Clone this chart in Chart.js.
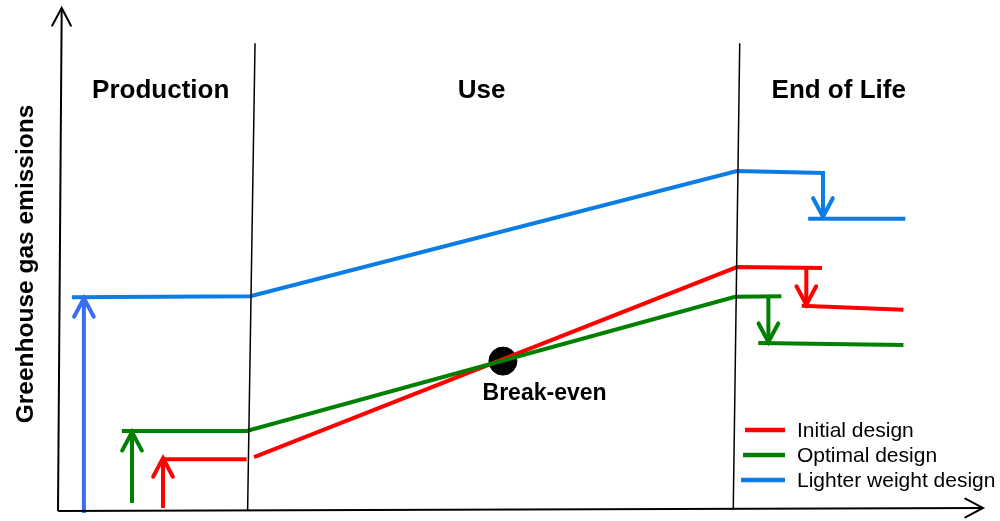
<!DOCTYPE html>
<html><head><meta charset="utf-8">
<script src="https://cdn.jsdelivr.net/npm/chart.js@4/dist/chart.umd.min.js"></script>
<style>html,body{margin:0;padding:0;background:#fff;}#wrap{width:1000px;height:521px;position:relative;}</style>
</head><body><div id="wrap"><canvas id="c"></canvas></div>
<script>
// ---- text ----
const stageLabels = ['Production', 'Use', 'End of Life'];
const stageLabelX = [11.1, 45.8, 84.4];
const stageLabelY = 82.1;
const yTitle = 'Greenhouse gas emissions';
const breakEvenLabel = 'Break-even';
const seriesNames = ['Initial design', 'Optimal design', 'Lighter weight design'];

// ---- axes and stage separators (schematic units 0..100) ----
const yAxisLine = [[0, 0], [0.4, 100]];
const xAxisLine = [[0, 0], [100, 0.6]];
const separator1 = [[20.5, 0.2], [21.3, 93]];
const separator2 = [[73.0, 0.2], [73.7, 93]];

// ---- Initial design (red) ----
const initialRise = [[11.35, 0.6], [11.35, 10.5]];
const initialProduction = [[11.35, 10.3], [20.4, 10.3]];
const initialUse = [[21.2, 10.7], [73.4, 48.5], [82.6, 48.3]];
const initialDrop = [[80.9, 48.3], [80.9, 41.0]];
const initialEnd = [[80.4, 40.8], [91.4, 40.0]];

// ---- Optimal design (green) ----
const optimalRise = [[8.0, 1.6], [8.0, 15.7]];
const optimalUse = [[6.9, 15.9], [20.4, 15.9], [73.2, 42.6], [78.2, 42.7]];
const optimalDrop = [[76.8, 42.7], [76.8, 33.6]];
const optimalEnd = [[75.7, 33.4], [91.4, 33.0]];

// ---- Lighter weight design (blue) ----
const lighterRise = [[2.8, -0.4], [2.8, 42.3]];
const lighterUse = [[1.5, 42.5], [20.8, 42.7], [73.4, 67.6], [82.7, 67.2], [82.7, 58.5]];
const lighterEnd = [[81.1, 58.1], [91.6, 58.1]];

// ---- break-even point ----
const breakEven = [[48.1, 29.8]];
const breakEvenLabelPos = [52.6, 22.1];

const RED = '#ff0000', GREEN = '#008000', BLUE = '#0b7de3', BLUE2 = '#3a6df5', BLACK = '#000000';
const pts = a => a.map(([x, y]) => ({ x, y }));
function seg(data, color, width, arrow) {
  return { data: pts(data), borderColor: color, backgroundColor: color, borderWidth: width,
    showLine: true, pointRadius: 0, pointHoverRadius: 0, fill: false, tension: 0,
    borderCapStyle: 'butt', borderJoinStyle: 'miter', clip: false, arrow: !!arrow };
}

const datasets = [
  seg(yAxisLine, BLACK, 2, true),
  seg(xAxisLine, BLACK, 2, true),
  seg(separator1, BLACK, 1.5),
  seg(separator2, BLACK, 1.5),
  seg(lighterRise, BLUE2, 4, true),
  seg(lighterUse, BLUE, 4, true),
  seg(lighterEnd, BLUE, 4),
  seg(optimalRise, GREEN, 4, true),
  seg(optimalUse, GREEN, 4),
  seg(optimalDrop, GREEN, 4, true),
  seg(optimalEnd, GREEN, 4),
  seg(initialRise, RED, 4, true),
  seg(initialProduction, RED, 4),
  seg(initialUse, RED, 4),
  seg(initialDrop, RED, 4, true),
  seg(initialEnd, RED, 4),
  { data: pts(breakEven), showLine: false, pointRadius: 14, pointHoverRadius: 14,
    pointBackgroundColor: BLACK, pointBorderColor: BLACK, clip: false }
];

const legendColors = [RED, GREEN, BLUE];

const overlay = {
  id: 'overlay',
  afterDatasetsDraw(chart) {
    const ctx = chart.ctx, xs = chart.scales.x, ys = chart.scales.y;
    const px = v => xs.getPixelForValue(v), py = v => ys.getPixelForValue(v);
    // arrowheads
    chart.data.datasets.forEach(ds => {
      if (!ds.arrow) return;
      const n = ds.data.length;
      const a = ds.data[n - 2], b = ds.data[n - 1];
      const x1 = px(a.x), y1 = py(a.y), x2 = px(b.x), y2 = py(b.y);
      const ang = Math.atan2(y2 - y1, x2 - x1);
      const L = ds.borderWidth > 3 ? 21 : 20, h = 28 * Math.PI / 180;
      ctx.save();
      ctx.strokeStyle = ds.borderColor; ctx.lineWidth = ds.borderWidth;
      ctx.lineCap = 'round'; ctx.lineJoin = 'miter';
      ctx.beginPath();
      ctx.moveTo(x2 - L * Math.cos(ang - h), y2 - L * Math.sin(ang - h));
      ctx.lineTo(x2, y2);
      ctx.lineTo(x2 - L * Math.cos(ang + h), y2 - L * Math.sin(ang + h));
      ctx.stroke();
      ctx.restore();
    });
    ctx.save();
    ctx.fillStyle = '#000';
    ctx.textAlign = 'center'; ctx.textBaseline = 'alphabetic';
    ctx.font = 'bold 26px "Liberation Sans", Arial, sans-serif';
    stageLabels.forEach((t, i) => ctx.fillText(t, px(stageLabelX[i]), py(stageLabelY)));
    ctx.font = 'bold 23px "Liberation Sans", Arial, sans-serif';
    ctx.fillText(breakEvenLabel, px(breakEvenLabelPos[0]), py(breakEvenLabelPos[1]));
    // y title
    ctx.save();
    ctx.translate(33, 264);
    ctx.rotate(-Math.PI / 2);
    ctx.font = 'bold 24.5px "Liberation Sans", Arial, sans-serif';
    ctx.fillText(yTitle, 0, 0);
    ctx.restore();
    // legend
    ctx.textAlign = 'left';
    ctx.font = '21px "Liberation Sans", Arial, sans-serif';
    seriesNames.forEach((t, i) => {
      const y = 430 + i * 25;
      ctx.strokeStyle = legendColors[i]; ctx.lineWidth = 4.5; ctx.lineCap = 'butt';
      ctx.beginPath(); ctx.moveTo(745 - i * 2, y); ctx.lineTo(785, y); ctx.stroke();
      ctx.fillText(t, 797, y + 7);
    });
    ctx.restore();
  }
};

new Chart(document.getElementById('c'), {
  type: 'scatter',
  data: { datasets },
  options: {
    responsive: true, maintainAspectRatio: false, animation: false,
    layout: { autoPadding: false, padding: { left: 58, right: 17, top: 8, bottom: 10 } },
    scales: {
      x: { type: 'linear', min: 0, max: 100, display: false },
      y: { type: 'linear', min: 0, max: 100, display: false }
    },
    plugins: { legend: { display: false }, tooltip: { enabled: false } },
    events: []
  },
  plugins: [overlay]
});
</script>
</body></html>
